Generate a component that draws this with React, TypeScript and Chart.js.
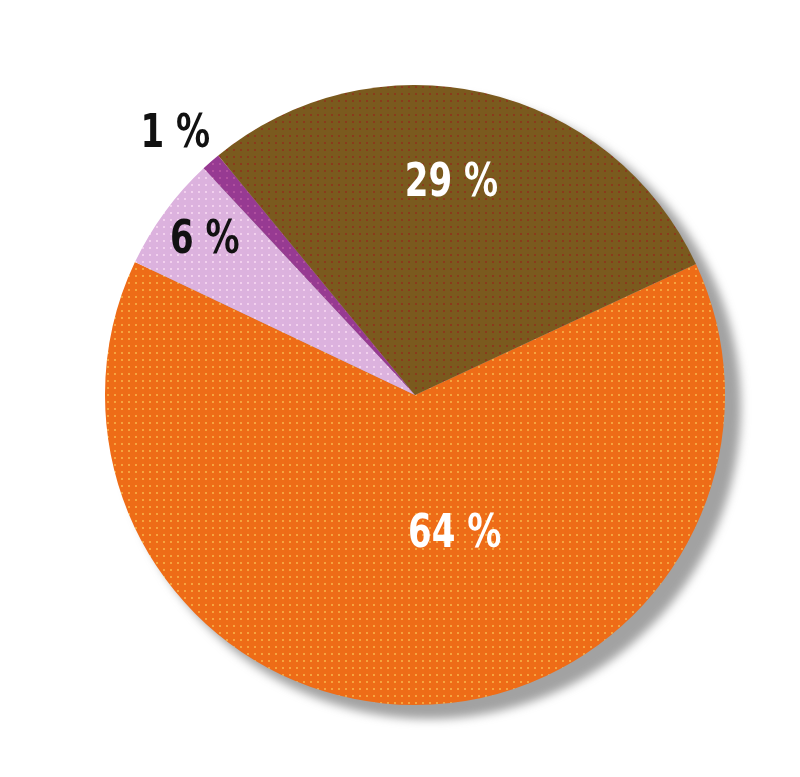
import { useEffect, useRef } from "react";
import { Chart, registerables, Plugin } from "chart.js";

Chart.register(...registerables);

const labels = ["Orange", "Rose", "Violet", "Brun"];
const values = [64, 6, 1, 29];
const baseColors = ["#ee6c17", "#dcb2de", "#973a92", "#7a5a1e"];
const dotColors = ["#f6a43e", "#f2d0ee", "#b0509f", "#8a3a1c"];
const textColors = ["#ffffff", "#111111", "#111111", "#ffffff"];
// label placement: angle offset from slice middle (deg), radius fraction
const labelPlace = [
  { da: -16, r: 0.47 },
  { da: 0, r: 0.84 },
  { da: -1.5, r: 1.14 },
  { da: -3, r: 0.69 },
];

const makePattern = (base: string, dot: string) => {
  const c = document.createElement("canvas");
  c.width = 7;
  c.height = 7;
  const g = c.getContext("2d")!;
  g.fillStyle = base;
  g.fillRect(0, 0, 7, 7);
  g.fillStyle = dot;
  g.fillRect(2, 2, 2, 2);
  return g.createPattern(c, "repeat")!;
};

const shadowPlugin: Plugin = {
  id: "shadow",
  beforeDatasetsDraw(chart) {
    const arc: any = chart.getDatasetMeta(0).data[0];
    if (!arc) return;
    const ctx = chart.ctx;
    ctx.save();
    ctx.fillStyle = "rgba(100,100,100,0.6)";
    ctx.filter = "blur(5px)";
    ctx.beginPath();
    ctx.arc(arc.x + 14, arc.y + 12, arc.outerRadius + 2, 0, Math.PI * 2);
    ctx.fill();
    ctx.restore();
  },
};

const labelPlugin: Plugin = {
  id: "pctLabels",
  afterDatasetsDraw(chart) {
    const ctx = chart.ctx;
    const meta = chart.getDatasetMeta(0);
    meta.data.forEach((el: any, i) => {
      const mid = (el.startAngle + el.endAngle) / 2 + (labelPlace[i].da * Math.PI) / 180;
      const r = el.outerRadius * labelPlace[i].r;
      const x = el.x + Math.cos(mid) * r;
      const y = el.y + Math.sin(mid) * r;
      ctx.save();
      ctx.translate(x, y);
      ctx.scale(0.74, 1);
      ctx.font = 'bold 46px "DejaVu Sans", sans-serif';
      ctx.textAlign = "center";
      ctx.textBaseline = "middle";
      ctx.fillStyle = textColors[i];
      ctx.fillText(`${values[i]} %`, 0, 0);
      ctx.restore();
    });
  },
};

export default function App() {
  const canvasNode = useRef<HTMLCanvasElement | null>(null);

  useEffect(() => {
    document.body.style.margin = "0";
    if (!canvasNode.current) return;
    const chart = new Chart(canvasNode.current, {
      type: "pie",
      data: {
        labels,
        datasets: [
          {
            data: values,
            backgroundColor: baseColors.map((b, i) => makePattern(b, dotColors[i])),
            borderWidth: 0,
          },
        ],
      },
      options: {
        animation: false,
        responsive: true,
        maintainAspectRatio: false,
        rotation: 65,
        layout: { padding: { left: 105, right: 75, top: 85, bottom: 72 } },
        plugins: {
          legend: { display: false },
          tooltip: { enabled: false },
        },
      },
      plugins: [shadowPlugin, labelPlugin],
    });
    return () => chart.destroy();
  }, []);

  return (
    <div style={{ width: "800px", height: "777px", position: "relative" }}>
      <canvas ref={canvasNode} />
    </div>
  );
}
